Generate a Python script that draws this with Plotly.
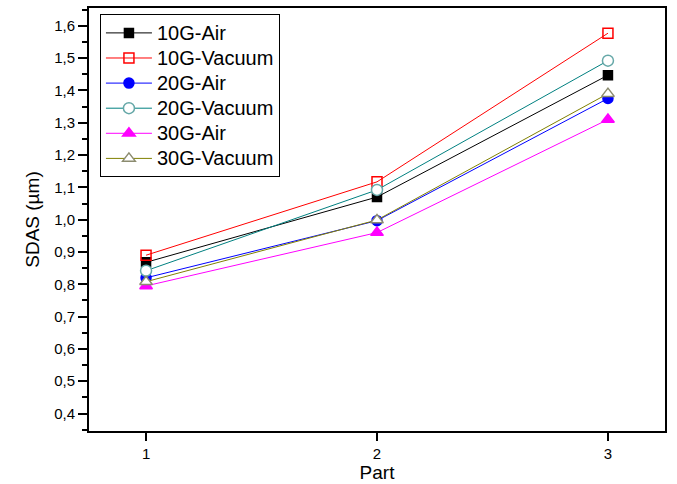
import plotly.graph_objects as go

parts = [1, 2, 3]
series_names = ["10G-Air", "10G-Vacuum", "20G-Air", "20G-Vacuum", "30G-Air", "30G-Vacuum"]
sdas_10g_air = [0.868, 1.070, 1.447]
sdas_10g_vacuum = [0.890, 1.117, 1.577]
sdas_20g_air = [0.820, 0.997, 1.375]
sdas_20g_vacuum = [0.842, 1.092, 1.492]
sdas_30g_air = [0.795, 0.960, 1.310]
sdas_30g_vacuum = [0.808, 0.999, 1.390]
y_ticks = [0.4, 0.5, 0.6, 0.7, 0.8, 0.9, 1.0, 1.1, 1.2, 1.3, 1.4, 1.5, 1.6]
y_tick_text = ["0,4", "0,5", "0,6", "0,7", "0,8", "0,9", "1,0", "1,1", "1,2", "1,3", "1,4", "1,5", "1,6"]

values = [sdas_10g_air, sdas_10g_vacuum, sdas_20g_air, sdas_20g_vacuum, sdas_30g_air, sdas_30g_vacuum]
styles = [
    dict(line="#000000", symbol="square", fill="#000000", edge="#000000", size=9),
    dict(line="#ff0000", symbol="square-open", fill="#ff0000", edge="#ff0000", size=10),
    dict(line="#0000ff", symbol="circle", fill="#0000ff", edge="#0000ff", size=10),
    dict(line="#008080", symbol="circle", fill="#ffffff", edge="#66a8a8", size=11),
    dict(line="#ff00ff", symbol="triangle-up", fill="#ff00ff", edge="#ff00ff", size=11),
    dict(line="#808000", symbol="triangle-up", fill="#ffffff", edge="#8c8c70", size=11),
]

fig = go.Figure()
for name, ys, st in zip(series_names, values, styles):
    fig.add_trace(go.Scatter(
        x=parts, y=ys, mode="lines+markers",
        name=f"<span style='font-size:20px'>{name}</span>",
        hovertemplate=f"{name}<br>Part %{{x}}<br>SDAS %{{y}}<extra></extra>",
        line=dict(color=st["line"], width=1),
        marker=dict(symbol=st["symbol"], size=st["size"], color=st["fill"],
                    line=dict(color=st["edge"], width=1.5)),
    ))

font_family = "Liberation Sans, Arial, sans-serif"
fig.update_layout(
    width=677, height=484,
    margin=dict(l=89, r=12, t=6, b=50),
    paper_bgcolor="white", plot_bgcolor="white",
    font=dict(family=font_family, color="#000000"),
    showlegend=True,
    legend=dict(
        x=0.019, y=0.985, xanchor="left", yanchor="top",
        bgcolor="white", bordercolor="#000000", borderwidth=1,
        font=dict(size=17, family=font_family),
        tracegroupgap=0, itemwidth=46,
    ),
    xaxis=dict(
        range=[0.753, 3.247], tickvals=parts, ticktext=["1", "2", "3"],
        showgrid=False, zeroline=False,
        showline=True, linecolor="#000000", linewidth=2, mirror=True,
        ticks="outside", ticklen=8, tickwidth=2, tickcolor="#000000",
        tickfont=dict(size=15), title=dict(text="Part", font=dict(size=19), standoff=3),
    ),
    yaxis=dict(
        range=[0.346, 1.655], tickvals=y_ticks, ticktext=y_tick_text,
        showgrid=False, zeroline=False,
        showline=True, linecolor="#000000", linewidth=2, mirror=True,
        ticks="outside", ticklen=9, tickwidth=2, tickcolor="#000000",
        minor=dict(ticks="outside", ticklen=5, tickwidth=1.5, tickcolor="#000000", dtick=0.05, tick0=0.35),
        tickfont=dict(size=15), title=dict(text="SDAS (µm)", font=dict(size=19), standoff=9),
    ),
)

fig.write_html("out.html")
